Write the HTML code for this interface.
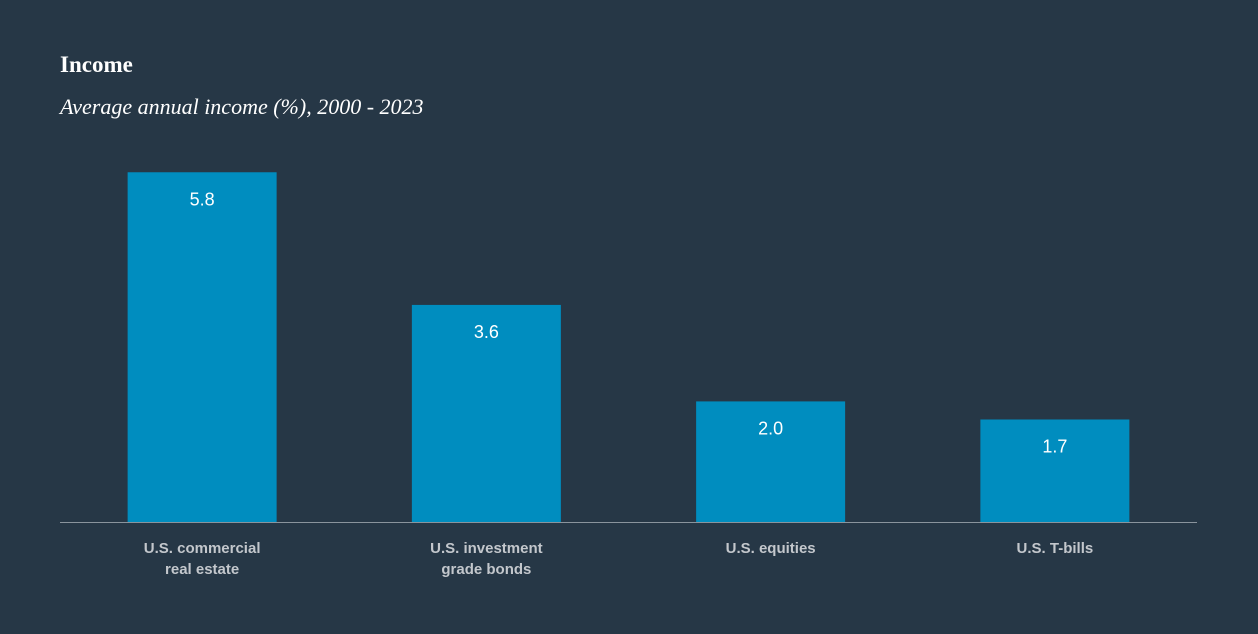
<!DOCTYPE html>
<html><head><meta charset="utf-8"><style>
html,body{margin:0;padding:0;background:#263746;}
body{width:1258px;height:634px;overflow:hidden;position:relative;}
.t{position:absolute;left:60px;color:#fff;font-family:"Liberation Serif",serif;}
</style></head><body>
<div class="t" style="top:52px;font-size:23px;font-weight:bold;">Income</div>
<div class="t" style="top:94px;font-size:22px;font-style:italic;">Average annual income (%), 2000 - 2023</div>
<svg id="c" width="1258" height="634" style="position:absolute;left:0;top:0"></svg>
<script>
const categories=[["U.S. commercial","real estate"],["U.S. investment","grade bonds"],["U.S. equities"],["U.S. T-bills"]];
const values=[5.8,3.6,2.0,1.7];
const valueLabels=["5.8","3.6","2.0","1.7"];
const ns="http://www.w3.org/2000/svg";
const svg=document.getElementById('c');
const x0=60,x1=1197,base=522,pxPerUnit=60.3,barW=149;
const band=(x1-x0)/categories.length;
const xc=i=>x0+band*(i+0.5);
const y=v=>base-v*pxPerUnit;
function mk(t,a){const e=document.createElementNS(ns,t);for(const k in a)e.setAttribute(k,a[k]);svg.appendChild(e);return e;}
values.forEach((v,i)=>{
  const r=mk('rect',{x:xc(i)-barW/2,y:y(v),width:barW,height:base-y(v),fill:'#008dbf'});
  
  
  const t=mk('text',{x:xc(i),y:y(v)+33,'text-anchor':'middle',fill:'#fff','font-size':18,'font-family':'Liberation Sans, sans-serif'});
  t.textContent=valueLabels[i];
  
  
  categories[i].forEach((line,j)=>{
    const c=mk('text',{x:xc(i),y:553+j*21,'text-anchor':'middle',fill:'#c3c7cc','font-size':15,'font-weight':'bold','font-family':'Liberation Sans Narrow, Liberation Sans, sans-serif'});
    c.textContent=line;
    
    
  });
});
const ax=mk('line',{x1:x0,x2:x1,y1:base+0.5,y2:base+0.5,stroke:'#8a949d','stroke-width':1});


</script>
</body></html>
